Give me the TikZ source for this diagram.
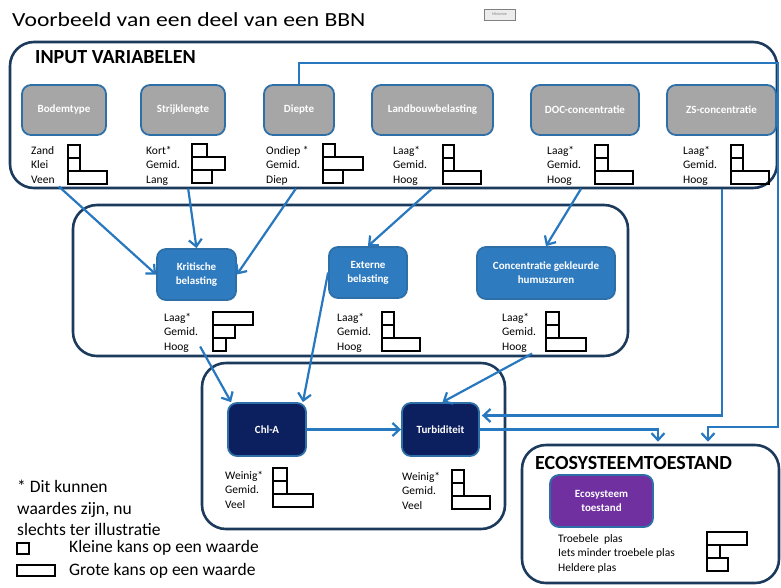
\documentclass[tikz,border=0pt]{standalone}
\usepackage{fontspec}
\setmainfont{Carlito}
\usetikzlibrary{arrows.meta,calc}
\definecolor{navy}{HTML}{1B3A5C}
\definecolor{cblue}{HTML}{2878C0}
\definecolor{nblue}{HTML}{2E7BC0}
\definecolor{gfill}{HTML}{A6A6A6}
\definecolor{dnavy}{HTML}{0C1F5E}
\definecolor{purp}{HTML}{7030A0}
\definecolor{bordblue}{HTML}{2F6FA8}
\newcommand\barsrow[5]{%
  \draw[barline] (#1,#2) rectangle ++(#3,13);
  \draw[barline] (#1,#2+13) rectangle ++(#4,13);
  \draw[barline] (#1,#2+26) rectangle ++(#5,13);}
\begin{document}
\begin{tikzpicture}[x=1pt,y=-1pt,
  container/.style={draw=navy, line width=2.6pt, rounded corners=24pt, inner sep=0pt},
  gbox/.style={draw=bordblue, line width=1.8pt, fill=gfill, rounded corners=9pt, text=white,
    font=\bfseries\fontsize{11}{14}\selectfont, minimum height=50pt, inner sep=0pt, align=center},
  bbox/.style={gbox, fill=nblue},
  nbox/.style={gbox, fill=dnavy},
  pbox/.style={gbox, fill=purp},
  lab/.style={anchor=north west, inner sep=0pt, align=left, font=\fontsize{11.5}{14.5}\selectfont},
  conn/.style={draw=cblue, line width=2.2pt, -{Straight Barb[length=7pt,width=13pt]}},
  barline/.style={draw=black, line width=1.6pt},
  sect/.style={anchor=west, inner sep=0pt, font=\bfseries\fontsize{20}{24}\selectfont},
]
\useasboundingbox (0,0) rectangle (781,587);
\fill[white] (0,0) rectangle (781,587);

% title
\node[anchor=base west, inner sep=0pt, font=\fontsize{20}{24}\selectfont] (title) at (12,26)
  {\scalebox{1.18}[1]{Voorbeeld van een deel van een BBN}};
\node[draw=gray, fill=gray!15, line width=0.5pt, minimum width=31pt, minimum height=11pt,
  inner sep=0pt, font=\fontsize{4}{5}\selectfont, text=gray] (minbtn) at (499.5,14.5) {Minimize};

% containers
\node[container, minimum width=767pt, minimum height=146pt] (inputbox) at (393.5,115) {};
\node[container, minimum width=555pt, minimum height=151pt] (midbox) at (350.5,280.5) {};
\node[container, minimum width=303pt, minimum height=166pt] (chlbox) at (353.5,446) {};
\node[container, minimum width=257pt, minimum height=138pt] (ecobox) at (650.5,514) {};

\node[sect] (inputtitle) at (35,57) {INPUT VARIABELEN};
\node[sect] (ecotitle) at (535,463) {ECOSYSTEEMTOESTAND};

% input variables
\node[gbox, minimum width=84pt] (bodem) at (64,110) {Bodemtype};
\node[gbox, minimum width=84pt] (strijk) at (183,110) {Strijklengte};
\node[gbox, minimum width=70pt] (diep) at (299,110) {Diepte};
\node[gbox, minimum width=121pt] (land) at (432.5,110) {Landbouwbelasting};
\node[gbox, minimum width=108pt] (doc) at (585,110) {DOC-concentratie};
\node[gbox, minimum width=109pt] (zs) at (721.5,110) {ZS-concentratie};

\node[lab] (bodlab) at (31,146) {Zand\\Klei\\Veen};
\node[lab] (strlab) at (146,146) {Kort*\\Gemid.\\Lang};
\node[lab] (dieplab) at (266,146) {Ondiep *\\Gemid.\\Diep};
\node[lab] (landlab) at (393,146) {Laag*\\Gemid.\\Hoog};
\node[lab] (doclab) at (547,146) {Laag*\\Gemid.\\Hoog};
\node[lab] (zslab) at (683,146) {Laag*\\Gemid.\\Hoog};

\barsrow{68}{145}{12}{12}{39}
\barsrow{192}{144}{15}{33}{20}
\barsrow{323}{144}{12}{40}{20}
\barsrow{443}{145}{11}{11}{38}
\barsrow{595}{145}{13}{13}{38}
\barsrow{731}{145}{12}{12}{38}

% middle variables
\node[bbox, minimum width=79pt, minimum height=51pt] (krit) at (196.5,274.5) {Kritische\\belasting};
\node[bbox, minimum width=78pt, minimum height=51pt] (ext) at (368,272.5) {Externe\\belasting};
\node[bbox, minimum width=138pt, minimum height=52pt] (conc) at (546,273) {Concentratie gekleurde\\humuszuren};

\node[lab] (kritlab) at (164,313) {Laag*\\Gemid.\\Hoog};
\node[lab] (extlab) at (337,313) {Laag*\\Gemid.\\Hoog};
\node[lab] (conclab) at (502,313) {Laag*\\Gemid.\\Hoog};

\barsrow{213}{312}{40}{22}{13}
\barsrow{382}{312}{12}{12}{38}
\barsrow{546}{312}{13}{13}{40}

% Chl-A and turbiditeit
\node[nbox, minimum width=78pt, minimum height=53pt] (chl) at (267,429.5) {Chl-A};
\node[nbox, minimum width=77pt, minimum height=53pt] (turb) at (440.5,429.5) {Turbiditeit};
\node[lab] (chllab) at (225,471) {Weinig*\\Gemid.\\Veel};
\node[lab] (turblab) at (402,472) {Weinig*\\Gemid.\\Veel};
\barsrow{273}{468}{14}{14}{40}
\barsrow{452}{470}{12}{12}{38}

% ecosysteem
\node[pbox, minimum width=103pt, minimum height=52pt] (eco) at (601.5,501) {Ecosysteem\\toestand};
\node[lab] (ecolab) at (558,534) {Troebele\ \ plas\\Iets minder troebele plas\\Heldere plas};
\barsrow{707}{532}{40}{13}{21}

% legend
\node[anchor=north west, inner sep=0pt, align=left, font=\fontsize{17.5}{21.5}\selectfont] (note) at (17,480)
  {* Dit kunnen\\waardes zijn, nu\\slechts ter illustratie};
\draw[barline] (17,543) rectangle (29,554);
\draw[barline] (17,565) rectangle (55,576);
\node[anchor=west, inner sep=0pt, font=\fontsize{17.5}{21}\selectfont] (klein) at (69,548) {Kleine kans op een waarde};
\node[anchor=west, inner sep=0pt, font=\fontsize{17.5}{21}\selectfont] (groot) at (69,571) {Grote kans op een waarde};

% connectors
\draw[conn] ($(bodlab.south east)+(4,3)$) -- (krit.west);
\draw[conn] ($(strlab.south east)+(8,3)$) -- (krit.north);
\draw[conn] ($(dieplab.south west)+(30,3)$) -- (krit.east);
\draw[conn] ($(landlab.south east)+(5,3)$) -- (ext.north);
\draw[conn] ($(doclab.south east)+(0,3)$) -- (conc.north);
\draw[conn] ($(zslab.south east)+(5,3)$) |- ($(turb.east)+(2,-14)$);
\draw[conn] ($(kritlab.south east)+(2,-6)$) -- ($(chl.north west)+(4,0)$);
\draw[conn] (ext.west) -- ($(chl.north east)+(-4,0)$);
\draw[conn] ($(conclab.south east)+(-4,1)$) -- ($(turb.north)+(2,0)$);
\draw[conn] (chl.east) -- (turb.west);
\draw[conn] (turb.east) -| ($(ecobox.north)+(7.5,-2)$);
\draw[conn] (diep.north) -- ++(0,-21) -| (778,427) -| ($(ecobox.north)+(57.5,-2)$);
\end{tikzpicture}
\end{document}
